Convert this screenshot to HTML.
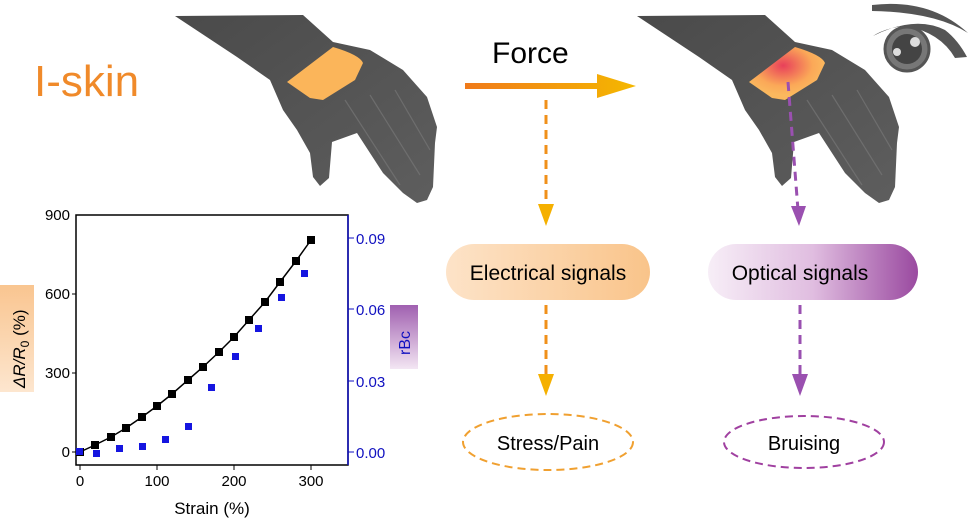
<!DOCTYPE html><html><head><style>body{margin:0;background:#fff}svg{display:block}text{font-family:"Liberation Sans",sans-serif}</style></head><body>
<svg width="973" height="523" viewBox="0 0 973 523" xmlns="http://www.w3.org/2000/svg">
<defs>
<linearGradient id="fa" x1="0" x2="1"><stop offset="0" stop-color="#f07a1a"/><stop offset="1" stop-color="#f5b800"/></linearGradient>
<linearGradient id="el" x1="0" x2="1"><stop offset="0" stop-color="#fde3c8"/><stop offset="1" stop-color="#f9c48a"/></linearGradient>
<linearGradient id="op" x1="0" x2="1"><stop offset="0" stop-color="#f7eef7"/><stop offset="0.5" stop-color="#e0bde0"/><stop offset="1" stop-color="#9a4aa0"/></linearGradient>
<linearGradient id="ry" x1="0" x2="0" y1="0" y2="1"><stop offset="0" stop-color="#f9c590"/><stop offset="1" stop-color="#fde6cf"/></linearGradient>
<linearGradient id="rb" x1="0" x2="0" y1="0" y2="1"><stop offset="0" stop-color="#a060b0"/><stop offset="1" stop-color="#f3e6f3"/></linearGradient>
<linearGradient id="hd" x1="0" x2="1" y1="0" y2="1"><stop offset="0" stop-color="#4a4a4a"/><stop offset="1" stop-color="#5e5e5e"/></linearGradient>
<radialGradient id="bz" cx="0.45" cy="0.35" r="0.55"><stop offset="0" stop-color="#e8405a"/><stop offset="0.7" stop-color="#fba858"/><stop offset="1" stop-color="#fbb85e"/></radialGradient>
<path id="hand" d="M175 16 L303 15 L333 42 L370 50 L403 70 L427 97 L437 127 L435 143 L433 187 L427 200 L417 203 L403 193 L383 173 L357 133 L332 142 L329 178 L320 186 L313 177 L310 153 L297 130 L283 110 L270 80 L237 57 Z"/>
</defs>
<text x="34" y="96" font-size="44" fill="#f08a2a">I-skin</text>
<!-- left hand -->
<use href="#hand" fill="url(#hd)"/>
<g stroke="#777" stroke-width="1.2" fill="none" opacity="0.7"><path d="M345 100 L400 185"/><path d="M370 95 L420 175"/><path d="M395 90 L430 150"/></g>
<path d="M287 82 L333 47 Q360 55 363 63 L355 80 L323 100 L310 98 Z" fill="#fbb55a"/>
<!-- right hand -->
<g transform="translate(462,0)"><use href="#hand" fill="url(#hd)"/>
<g stroke="#777" stroke-width="1.2" fill="none" opacity="0.7"><path d="M345 100 L400 185"/><path d="M370 95 L420 175"/><path d="M395 90 L430 150"/></g>
<path d="M287 82 L333 47 Q360 55 363 63 L355 80 L323 100 L310 98 Z" fill="url(#bz)"/></g>
<!-- eye -->
<path d="M872 5 Q930 -2 968 33 Q935 12 872 11 Z" fill="#555"/>
<path d="M873 36 Q915 15 945 30 Q958 40 967 57 L955 58 Q940 32 905 26 Q885 28 873 36 Z" fill="#555"/>
<circle cx="907" cy="49" r="22" fill="#777" stroke="#555" stroke-width="3"/>
<circle cx="907" cy="49" r="15" fill="#444"/><circle cx="915" cy="42" r="5" fill="#ddd"/><circle cx="897" cy="52" r="4" fill="#ddd"/>
<!-- force arrow -->
<text x="492" y="63" font-size="30" fill="#000">Force</text>
<path d="M465 83 L597 83 L597 74 L636 86 L597 98 L597 89 L465 89 Z" fill="url(#fa)"/>
<g stroke="#f0901a" stroke-width="3" stroke-dasharray="9 6" fill="none"><line x1="546" y1="100" x2="546" y2="212"/><line x1="546" y1="305" x2="546" y2="380"/></g>
<path d="M538 204 L554 204 L546 226 Z M538 374 L554 374 L546 396 Z" fill="#f5b000"/>
<g stroke="#9a50b0" stroke-width="3" stroke-dasharray="9 6" fill="none"><line x1="788" y1="82" x2="798" y2="210"/><line x1="800" y1="305" x2="800" y2="380"/></g>
<path d="M791 206 L806 206 L799 226 Z M792 374 L808 374 L800 396 Z" fill="#9a50b0"/>
<rect x="446" y="244" width="204" height="56" rx="28" fill="url(#el)"/>
<text x="548" y="280" font-size="21" text-anchor="middle" fill="#000">Electrical signals</text>
<rect x="708" y="244" width="210" height="56" rx="28" fill="url(#op)"/>
<text x="800" y="280" font-size="21" text-anchor="middle" fill="#000">Optical signals</text>
<ellipse cx="548" cy="442" rx="85" ry="28" fill="none" stroke="#f0a030" stroke-width="2" stroke-dasharray="8 5"/>
<text x="548" y="450" font-size="20" text-anchor="middle">Stress/Pain</text>
<ellipse cx="804" cy="442" rx="80" ry="26" fill="none" stroke="#a040a0" stroke-width="2" stroke-dasharray="8 5"/>
<text x="804" y="450" font-size="20" text-anchor="middle">Bruising</text>
<!-- plot -->
<rect x="76" y="215" width="272" height="250" fill="none" stroke="#000" stroke-width="1.5"/>
<line x1="348" y1="215" x2="348" y2="465" stroke="#1010c0" stroke-width="1.5"/>
<g font-size="15" text-anchor="end"><text x="70" y="220">900</text><text x="70" y="299">600</text><text x="70" y="378">300</text><text x="70" y="457">0</text></g>
<g stroke="#000"><line x1="76" y1="294" x2="72" y2="294"/><line x1="76" y1="373" x2="72" y2="373"/><line x1="76" y1="452" x2="72" y2="452"/><line x1="80" y1="465" x2="80" y2="470"/><line x1="157" y1="465" x2="157" y2="470"/><line x1="234" y1="465" x2="234" y2="470"/><line x1="311" y1="465" x2="311" y2="470"/></g>
<g font-size="15" text-anchor="middle"><text x="80" y="486">0</text><text x="157" y="486">100</text><text x="234" y="486">200</text><text x="311" y="486">300</text></g>
<text x="212" y="514" font-size="17" text-anchor="middle">Strain (%)</text>
<g stroke="#1010c0"><line x1="348" y1="238" x2="354" y2="238"/><line x1="348" y1="309" x2="354" y2="309"/><line x1="348" y1="381" x2="354" y2="381"/><line x1="348" y1="452" x2="354" y2="452"/></g>
<g font-size="15" fill="#1010c0"><text x="356" y="244">0.09</text><text x="356" y="315">0.06</text><text x="356" y="387">0.03</text><text x="356" y="458">0.00</text></g>
<rect x="0" y="285" width="34" height="107" fill="url(#ry)"/>
<text transform="translate(25,388) rotate(-90)" font-size="17" font-style="italic">ΔR/R<tspan font-size="12" dy="4" font-style="normal">0</tspan><tspan dy="-4" font-style="normal"> (%)</tspan></text>
<rect x="390" y="305" width="28" height="64" fill="url(#rb)"/>
<text transform="translate(410,355) rotate(-90)" font-size="16" fill="#1010c0">rBc</text>
<polyline points="80,452 95,445 111,437 126,428 142,417 157,406 172,394 188,380 203,367 219,352 234,337 249,320 265,302 280,282 296,261 311,240" fill="none" stroke="#000" stroke-width="1.5"/>
<g fill="#000">
<rect x="76" y="448" width="8" height="8"/><rect x="91" y="441" width="8" height="8"/><rect x="107" y="433" width="8" height="8"/><rect x="122" y="424" width="8" height="8"/><rect x="138" y="413" width="8" height="8"/><rect x="153" y="402" width="8" height="8"/><rect x="168" y="390" width="8" height="8"/><rect x="184" y="376" width="8" height="8"/><rect x="199" y="363" width="8" height="8"/><rect x="215" y="348" width="8" height="8"/><rect x="230" y="333" width="8" height="8"/><rect x="245" y="316" width="8" height="8"/><rect x="261" y="298" width="8" height="8"/><rect x="276" y="278" width="8" height="8"/><rect x="292" y="257" width="8" height="8"/><rect x="307" y="236" width="8" height="8"/></g>
<g fill="#1515e0">
<rect x="76" y="448" width="7" height="7"/><rect x="93" y="450" width="7" height="7"/><rect x="116" y="445" width="7" height="7"/><rect x="139" y="443" width="7" height="7"/><rect x="162" y="436" width="7" height="7"/><rect x="185" y="423" width="7" height="7"/><rect x="208" y="384" width="7" height="7"/><rect x="232" y="353" width="7" height="7"/><rect x="255" y="325" width="7" height="7"/><rect x="278" y="294" width="7" height="7"/><rect x="301" y="270" width="7" height="7"/></g>
</svg></body></html>
